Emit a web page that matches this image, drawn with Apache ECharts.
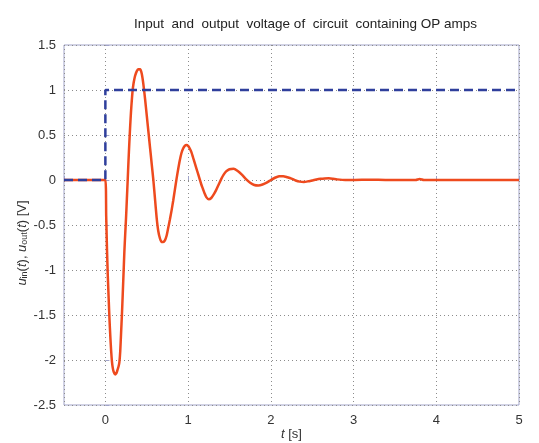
<!DOCTYPE html>
<html>
<head>
<meta charset="utf-8">
<script src="https://cdn.jsdelivr.net/npm/echarts@6/dist/echarts.min.js"></script>
<style>
  html, body { margin: 0; padding: 0; background: #fff; }
  #chart { width: 539px; height: 443px; }
</style>
</head>
<body>
<div id="chart"></div>
<script>
  // time points [s] and output voltage [V]
  var tOut = [-0.5, 0,
    0.01, 0.02, 0.03, 0.04, 0.05, 0.06, 0.07, 0.08, 0.09, 0.10,
    0.11, 0.12, 0.13, 0.14, 0.15, 0.16, 0.17, 0.18, 0.19, 0.20,
    0.21, 0.22, 0.23, 0.24, 0.25, 0.26, 0.27, 0.28, 0.29, 0.30,
    0.31, 0.32, 0.33, 0.34, 0.35, 0.36, 0.38, 0.40, 0.42, 0.44,
    0.46, 0.48, 0.50, 0.52, 0.54, 0.56, 0.58, 0.60, 0.62, 0.64,
    0.66, 0.68, 0.70, 0.72, 0.74, 0.76, 0.78, 0.80, 0.82, 0.84,
    0.86, 0.88, 0.90, 0.92, 0.94, 0.96, 0.98, 1.00, 1.02, 1.04,
    1.06, 1.08, 1.10, 1.12, 1.14, 1.16, 1.18, 1.20, 1.22, 1.25,
    1.28, 1.31, 1.34, 1.37, 1.40, 1.43, 1.46, 1.50, 1.55, 1.60,
    1.65, 1.70, 1.75, 1.80, 1.85, 1.90, 1.95, 2.00, 2.05, 2.10,
    2.15, 2.20, 2.25, 2.30, 2.35, 2.40, 2.45, 2.50, 2.55, 2.60,
    2.65, 2.70, 2.75, 2.80, 2.90, 3.00, 3.20, 3.40, 3.60, 3.75,
    3.80, 3.85, 4.00, 4.50, 5.00];
  var uOut = [0, 0,
    -0.40, -0.78, -1.08, -1.32, -1.55, -1.74, -1.90, -2.02, -2.09, -2.13,
    -2.15, -2.16, -2.15, -2.13, -2.10, -2.07, -2.02, -1.90, -1.70, -1.50,
    -1.27, -1.03, -0.79, -0.60, -0.42, -0.21, 0.0, 0.22, 0.42, 0.60,
    0.76, 0.89, 1.00, 1.07, 1.12, 1.16, 1.21, 1.23, 1.23, 1.18,
    1.06, 0.90, 0.72, 0.54, 0.36, 0.18, 0.0, -0.21, -0.42, -0.57,
    -0.65, -0.69, -0.69, -0.67, -0.62, -0.53, -0.44, -0.34, -0.23, -0.11,
    0.01, 0.12, 0.22, 0.30, 0.35, 0.38, 0.39, 0.38, 0.35, 0.31,
    0.25, 0.19, 0.13, 0.07, 0.01, -0.05, -0.10, -0.15, -0.19, -0.215,
    -0.20, -0.16, -0.11, -0.05, 0.01, 0.06, 0.095, 0.12, 0.125, 0.10,
    0.06, 0.01, -0.03, -0.055, -0.06, -0.05, -0.03, 0.0, 0.025, 0.042,
    0.043, 0.03, 0.015, -0.005, -0.018, -0.022, -0.015, -0.005, 0.005, 0.013,
    0.018, 0.019, 0.014, 0.007, 0.0, 0.0, 0.003, 0.0, 0.0, 0.0,
    0.012, 0.0, 0.0, 0.0, 0.0];

  // input step [V]
  var tIn = [-0.5, 0, 0, 5];
  var uIn = [0, 0, 1, 1];

  var yTicks = [-2.5, 1.5, 0.5];   // min, max, step

  function pairs(xs, ys) {
    return xs.map(function (x, i) { return [x, ys[i]]; });
  }

  var font = 'Liberation Sans, Arial, sans-serif';
  var gridColor = '#8c8c8c';
  var frameColor = '#a0a3c8';

  var option = {
    backgroundColor: '#fff',
    animation: false,
    title: {
      text: 'Input  and  output  voltage of  circuit  containing OP amps',
      left: 129,
      top: 12,
      textStyle: { fontFamily: font, fontSize: 13.5, fontWeight: 'normal', color: '#222' }
    },
    grid: {
      left: 64,
      right: 20,
      top: 45,
      bottom: 38,
      outerBoundsMode: 'none',
      containLabel: false,
      show: true,
      borderColor: frameColor,
      borderWidth: 1
    },
    xAxis: {
      type: 'value',
      min: -0.5,
      max: 5,
      splitNumber: 5,
      name: '{i|t} [s]',
      nameLocation: 'middle',
      nameGap: 23,
      nameMoveOverlap: false,
      nameTextStyle: {
        fontFamily: font, fontSize: 13, color: '#333',
        rich: { i: { fontStyle: 'italic', fontSize: 13, color: '#333', fontFamily: font } }
      },
      axisLine: { show: false },
      axisTick: { inside: true, length: 4, lineStyle: { color: frameColor } },
      axisLabel: {
        margin: 9,
        fontFamily: font,
        fontSize: 13,
        color: '#333',
        formatter: function (v) { return v < 0 ? '' : v; }
      },
      splitLine: { show: true, lineStyle: { color: gridColor, type: [1, 3], width: 1 } }
    },
    yAxis: {
      type: 'value',
      min: yTicks[0],
      max: yTicks[1],
      interval: yTicks[2],
      name: '{i|u}{s|in}({i|t}), {i|u}{s|out}({i|t}) [V]',
      nameLocation: 'middle',
      nameGap: 35,
      nameMoveOverlap: false,
      nameTextStyle: {
        fontFamily: font, fontSize: 13, color: '#333',
        padding: [0, 36, 0, 0],
        rich: {
          i: { fontStyle: 'italic', fontSize: 13, color: '#333', fontFamily: font },
          s: { fontSize: 9, color: '#333', verticalAlign: 'bottom', lineHeight: 14, fontFamily: font }
        }
      },
      axisLine: { show: false },
      axisTick: { inside: true, length: 4, lineStyle: { color: frameColor } },
      axisLabel: { margin: 8, fontFamily: font, fontSize: 13, color: '#333' },
      splitLine: { show: true, lineStyle: { color: gridColor, type: [1, 3], width: 1 } }
    },
    series: [
      {
        name: 'output',
        type: 'line',
        smooth: 0.2,
        showSymbol: false,
        data: pairs(tOut, uOut),
        lineStyle: { color: '#ee4a1e', width: 2.5 },
        z: 2
      },
      {
        name: 'input',
        type: 'line',
        showSymbol: false,
        data: pairs(tIn, uIn),
        lineStyle: { color: '#2f3f9c', width: 2.5, type: [9, 5] },
        z: 3
      }
    ]
  };

  var chart = echarts.init(document.getElementById('chart'));
  chart.setOption(option);
</script>
</body>
</html>
